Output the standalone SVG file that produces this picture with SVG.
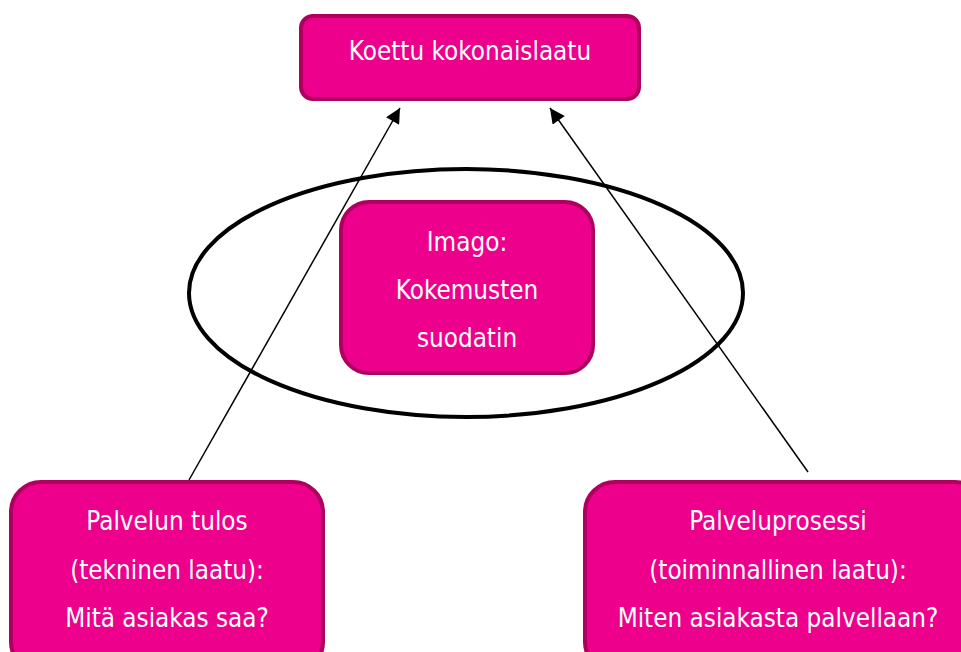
<svg xmlns="http://www.w3.org/2000/svg" width="961" height="652" viewBox="0 0 961 652">
<style>
.box{fill:#EC008C;stroke:#B0005F;stroke-width:4}
.t{font-family:"DejaVu Sans Condensed","DejaVu Sans",sans-serif;font-size:25.8px;fill:#fff;text-anchor:middle}
.c{stroke:#000;stroke-width:1.5;fill:none}
</style>
<defs>
<marker id="ah2" viewBox="0 0 10 10" refX="10" refY="5" markerWidth="16" markerHeight="15" markerUnits="userSpaceOnUse" orient="auto"><path d="M0,0 L10,5 L0,10 z" fill="#000"/></marker>
</defs>
<rect x="0" y="0" width="961" height="652" fill="#fff"/>
<ellipse cx="466" cy="293" rx="277" ry="124" fill="none" stroke="#000" stroke-width="4"/>
<g id="connectors">
<line class="c" x1="189" y1="480" x2="400" y2="108" marker-end="url(#ah2)"/>
<line class="c" x1="808" y1="472" x2="550" y2="108" marker-end="url(#ah2)"/>
</g>
<g id="top">
<rect class="box" x="301" y="16" width="338" height="83" rx="12"/>
<text class="t" x="470" y="60">Koettu kokonaislaatu</text>
</g>
<g id="imago">
<rect class="box" x="341" y="202" width="252" height="171" rx="28"/>
<text class="t" x="467" y="251">Imago:</text>
<text class="t" x="467" y="299">Kokemusten</text>
<text class="t" x="467" y="347">suodatin</text>
</g>
<g id="tulos">
<rect class="box" x="11" y="482" width="312" height="190" rx="30"/>
<text class="t" x="167" y="530">Palvelun tulos</text>
<text class="t" x="167" y="579">(tekninen laatu):</text>
<text class="t" x="167" y="627">Mitä asiakas saa?</text>
</g>
<g id="prosessi">
<rect class="box" x="585" y="482" width="400" height="190" rx="30"/>
<text class="t" x="778" y="530">Palveluprosessi</text>
<text class="t" x="778" y="579">(toiminnallinen laatu):</text>
<text class="t" x="778" y="627">Miten asiakasta palvellaan?</text>
</g>
</svg>
